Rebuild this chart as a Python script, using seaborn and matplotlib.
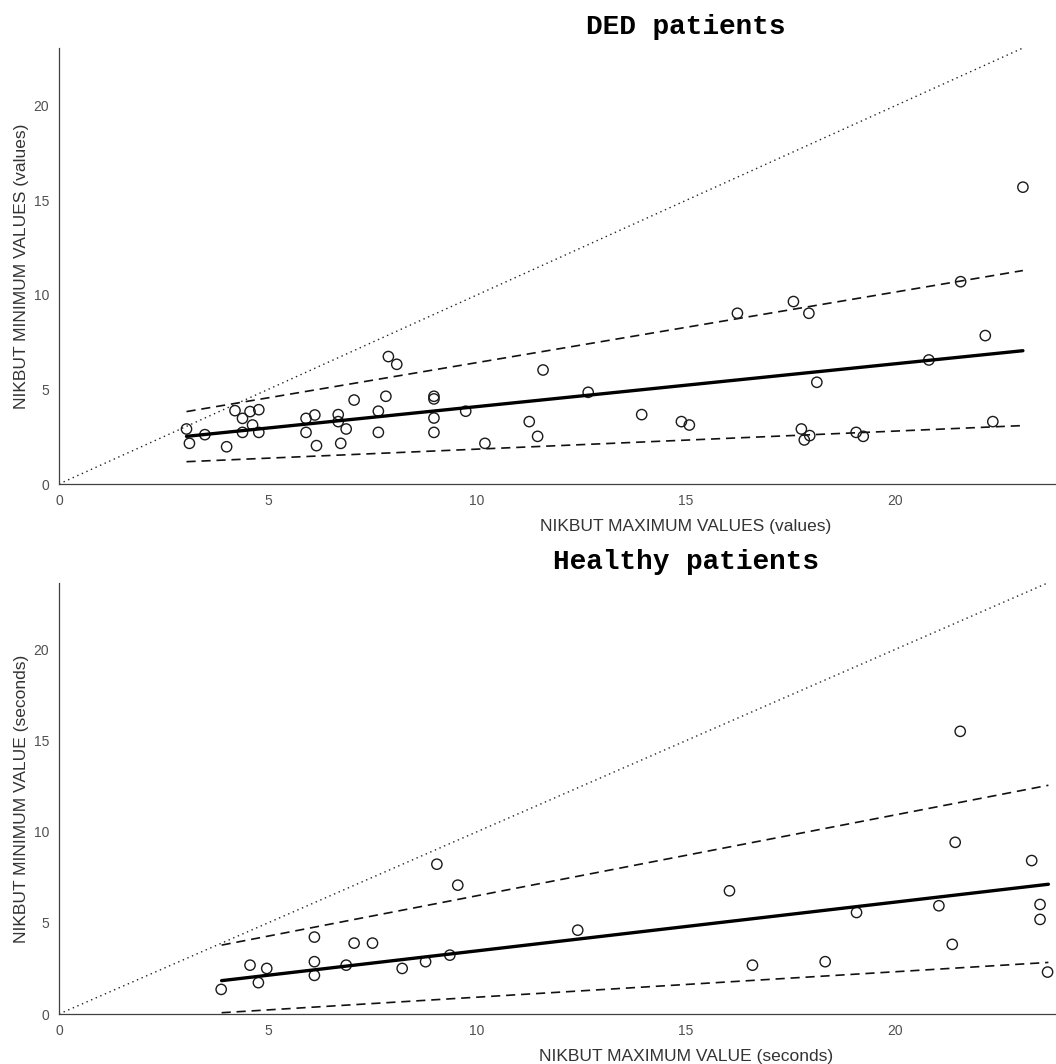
import numpy as np
import pandas as pd
import matplotlib
matplotlib.use("Agg")
import matplotlib.pyplot as plt
import seaborn as sns

# ---------------- data ----------------
ded_max = [3.05, 3.12, 3.49, 4.01, 4.21, 4.39, 4.39, 4.57, 4.63, 4.78, 4.78,
           5.91, 5.91, 6.12, 6.16, 6.68, 6.68, 6.87, 6.74, 7.06, 7.64, 7.64,
           7.82, 7.88, 8.08, 8.97, 8.97, 8.97, 8.97, 9.73, 10.19,
           11.58, 12.66, 11.25, 11.45, 13.94, 14.89, 15.08, 16.23, 17.57, 17.94,
           18.13, 17.76, 17.96, 17.83, 19.07, 19.24, 20.81, 21.57, 22.16, 22.34,
           23.06]
ded_min = [2.91, 2.15, 2.61, 1.97, 3.88, 3.47, 2.73, 3.83, 3.12, 3.93, 2.73,
           3.47, 2.73, 3.65, 2.03, 3.67, 3.30, 2.91, 2.15, 4.44, 3.85, 2.73,
           4.64, 6.74, 6.33, 4.64, 4.50, 3.49, 2.73, 3.85, 2.15,
           6.03, 4.85, 3.30, 2.52, 3.67, 3.30, 3.12, 9.03, 9.65, 9.03,
           5.38, 2.91, 2.56, 2.33, 2.73, 2.52, 6.56, 10.70, 7.85, 3.30,
           15.70]

healthy_max = [3.88, 4.57, 4.77, 4.97, 6.11, 6.11, 6.11, 6.87, 7.06, 7.50,
               8.21, 8.77, 9.04, 9.35, 9.54, 12.41, 16.04, 16.59, 18.33, 19.08,
               21.05, 21.37, 21.44, 21.56, 23.27, 23.47, 23.47, 23.65]
healthy_min = [1.35, 2.68, 1.72, 2.50, 4.22, 2.87, 2.12, 2.68, 3.89, 3.89,
               2.50, 2.87, 8.22, 3.23, 7.07, 4.60, 6.76, 2.68, 2.87, 5.57,
               5.94, 3.82, 9.42, 15.51, 8.42, 6.01, 5.19, 2.30]

# fitted line (solid) and bounds (dashed), evaluated at the ends of the data range
ded_line_x = [3.05, 23.06]
ded_fit = [2.52, 7.05]
ded_upper = [3.83, 11.29]
ded_lower = [1.18, 3.09]

healthy_line_x = [3.89, 23.67]
healthy_fit = [1.83, 7.12]
healthy_upper = [3.78, 12.55]
healthy_lower = [0.07, 2.83]

x_ticks = [0, 5, 10, 15, 20]
y_ticks = [0, 5, 10, 15, 20]
titles = ["DED patients", "Healthy patients"]
x_labels = ["NIKBUT MAXIMUM VALUES (values)", "NIKBUT MAXIMUM VALUE (seconds)"]
y_labels = ["NIKBUT MINIMUM VALUES (values)", "NIKBUT MINIMUM VALUE (seconds)"]

# ---------------- style ----------------
sns.set_theme(style="white")
plt.rcParams["font.family"] = ["Liberation Sans", "DejaVu Sans"]

AX_COLOR = "#404040"
TXT_COLOR = "#333333"

fig = plt.figure(figsize=(10.56, 10.64), dpi=100)

W, H = 1056.0, 1064.0
px_per_unit_x = 41.8
axes_specs = [
    # left px, bottom px (from top), height px
    (59, 484, 436),
    (59, 1014, 431),
]


def draw_panel(ax, xs, ys, lx, fit, up, lo, title, xlabel, ylabel):
    pts = pd.DataFrame({"x": xs, "y": ys})
    sns.scatterplot(data=pts, x="x", y="y", ax=ax, marker="o", s=55,
                    facecolor="none", edgecolor="#1a1a1a", linewidth=1.0,
                    zorder=3, clip_on=False)
    lines = pd.DataFrame({"x": lx, "fit": fit, "up": up, "lo": lo})
    sns.lineplot(data=lines, x="x", y="fit", ax=ax, color="black", lw=2.4,
                 sort=False, estimator=None, zorder=4)
    sns.lineplot(data=lines, x="x", y="up", ax=ax, color="#111111", lw=1.2,
                 linestyle=(0, (5.5, 3.5)), sort=False, estimator=None, zorder=2)
    sns.lineplot(data=lines, x="x", y="lo", ax=ax, color="#111111", lw=1.2,
                 linestyle=(0, (5.5, 3.5)), sort=False, estimator=None, zorder=2)
    top = max(xs)
    ident = pd.DataFrame({"x": [0, top], "y": [0, top]})
    sns.lineplot(data=ident, x="x", y="y", ax=ax, color="#222222", lw=1.0,
                 linestyle=(0, (1, 2.6)), sort=False, estimator=None, zorder=1)

    ax.set_xlim(0, 30)
    ax.set_ylim(0, top)
    ax.set_xticks(x_ticks)
    ax.set_yticks(y_ticks)
    ax.set_xticklabels([str(t) for t in x_ticks])
    ax.set_yticklabels([str(t) for t in y_ticks])
    sns.despine(ax=ax, top=True, right=True)
    for side in ("left", "bottom"):
        ax.spines[side].set_color(AX_COLOR)
        ax.spines[side].set_linewidth(0.9)
    ax.tick_params(axis="both", direction="in", length=8, width=0.8,
                   color=AX_COLOR, labelcolor="#505050", labelsize=10)
    ax.tick_params(axis="x", pad=7)
    ax.tick_params(axis="y", pad=7)
    ax.set_xlabel(xlabel, fontsize=12.5, color=TXT_COLOR, labelpad=8)
    ax.set_ylabel(ylabel, fontsize=12.5, color=TXT_COLOR, labelpad=3)
    ax.set_title(title, fontsize=20, fontweight="bold", color="black",
                 family=["Liberation Mono", "DejaVu Sans Mono"], pad=10)
    ax.grid(False)
    ax.set_facecolor("white")


datasets = [
    (ded_max, ded_min, ded_line_x, ded_fit, ded_upper, ded_lower),
    (healthy_max, healthy_min, healthy_line_x, healthy_fit, healthy_upper, healthy_lower),
]

for i, (spec, d) in enumerate(zip(axes_specs, datasets)):
    left_px, bottom_px, h_px = spec
    ax = fig.add_axes([left_px / W, (H - bottom_px) / H,
                       30 * px_per_unit_x / W, h_px / H])
    ax.patch.set_alpha(0)
    draw_panel(ax, *d, titles[i], x_labels[i], y_labels[i])

fig.savefig("out.png", dpi=100, facecolor="white")
